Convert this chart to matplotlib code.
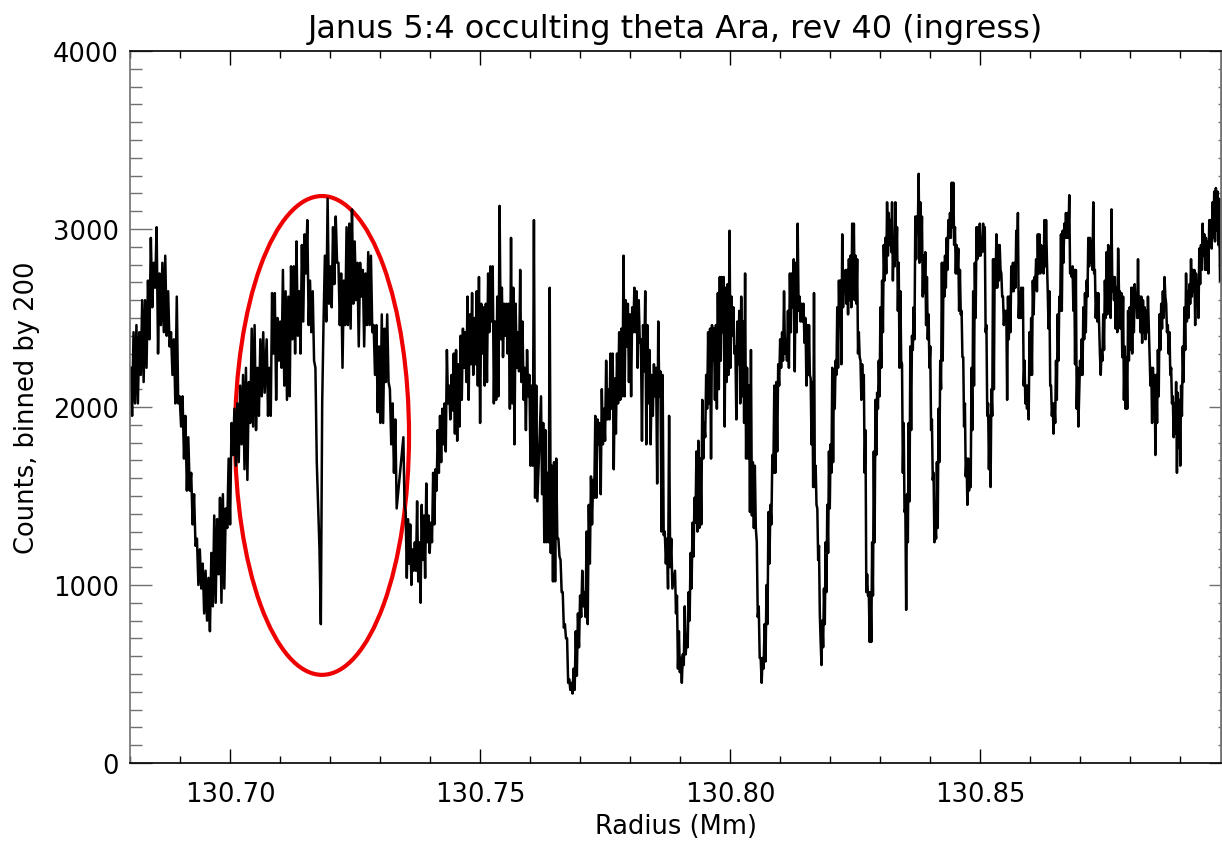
import numpy as np
import matplotlib
matplotlib.use("Agg")
import matplotlib.pyplot as plt
from matplotlib.patches import Ellipse
from matplotlib.ticker import MultipleLocator

# counts (binned by 200) from left to right
seg1 = [2220, 1950, 2420, 2020, 2460, 2020, 2420, 2180, 2600, 2140, 2600, 2220,
        2710, 2380, 2950, 2560, 2810, 2670, 3010, 2300, 2750, 2460, 2810, 2420,
        2850, 2400, 2650, 2340, 2420, 2180, 2380, 2020, 2620, 2020, 2060, 1890,
        2060, 1710, 1950, 1530, 1830, 1530, 1630, 1340, 1510, 1220, 1260, 1000,
        1200, 980, 1120, 840, 1080, 800, 1040, 740, 1180, 880, 1390, 900,
        1370, 1060, 1490, 900, 1510, 980, 1430, 1320, 1710, 1340, 1910, 1730,
        1990, 1670, 2020, 1690, 2120, 1790, 2180, 1650, 2220, 1590, 2140, 1910,
        2440, 1890, 2460, 1870, 2220, 1950, 2380, 2060, 2420, 2080]
seg2 = [2380, 1950, 2220, 1950, 2640, 2300, 2640, 2040, 2500, 2260, 2480, 2220,
        2770, 2120, 2650, 2040, 2620, 2060, 2790, 2380, 2790, 2300, 2930, 2400,
        2650, 2300, 2910, 2480, 2970, 2750, 3050, 2460, 2710, 2420, 2650, 2260,
        2220, 1690, 1450, 1200, 780, 2020, 2480, 2850, 2480, 3170, 2580,
        2790, 2560, 3010, 2690, 3070, 2810, 2810, 2460, 2750, 2220, 2710, 2460,
        3010, 2460, 3030, 2440, 3110, 2580, 2930, 2600, 2810, 2340, 2810, 2620,
        2770, 2340, 2750, 2460, 2870, 2460, 2850, 2420, 2460, 2180, 2460, 1970,
        2340, 1910, 2520, 1910, 2440, 2140, 2520, 2140, 2100, 1790, 2020, 1630,
        1930, 1430]
seg3 = [1830, 1450, 1410, 1040, 1370, 1120, 1340, 1000, 1200, 1080, 1240, 1080,
        1470, 1020, 1240, 900, 1450, 1140, 1390, 1040, 1570, 1240, 1390, 1180,
        1350, 1240, 1630, 1340, 1650, 1530, 1870, 1630, 1950, 1690, 1990, 1790,
        2020, 1750, 2320, 2020, 2120, 1930, 2180, 1980, 2300, 1850, 2320, 1810,
        2240, 1890, 2400, 2040, 2440, 2220, 2420, 2140, 2620, 2040, 2520, 2240,
        2640, 2180, 2500, 2240, 2650, 2120, 2730, 1910, 2580, 2300, 2560, 2120,
        2580, 2140, 2750, 2420, 2790, 2480, 2790, 2020, 2480, 2040, 2620, 2060,
        3130, 2380, 2670, 2280, 2580, 2400, 2580, 2300, 2580, 1990, 2950, 2020,
        2670, 1790, 2580, 2220, 2420, 2200, 2770, 2140, 2480, 2040, 2220, 1870,
        2320, 2060, 2180, 1670, 2120, 1670, 3050, 1490, 2120, 1470]
seg4 = [2060, 1510, 1910, 1240, 1870, 1240, 1630, 1240, 2670, 1180, 1670, 1020,
        1690, 1020, 1710, 1260, 1260, 1160, 1140, 960, 960, 760, 780, 700,
        700, 450, 470, 410, 450, 390, 530, 410, 740, 490, 840, 650,
        940, 820, 1080, 880, 960, 820, 1300, 780, 1450, 1120, 1610, 1340,
        1590, 1490, 1950, 1490, 1930, 1790, 1910, 1510, 2100, 1790, 1990, 1810,
        2260, 1930, 2100, 1930, 2300, 1990, 2300, 1650, 2160, 1850, 2300, 2020,
        2420, 2040, 2440, 2060, 2850, 2060, 2600, 2340, 2580, 2140, 2520, 2060,
        2560, 2420, 2670, 2420, 2650, 2220, 2600, 2360, 2380, 1810, 2460, 2200,
        2650, 1790, 2460, 2020, 2320, 1790, 2180, 1950, 2240, 2060, 2220, 1570,
        2480, 2060, 2200, 1300, 2180, 1280, 1300, 1120, 1260, 980, 1950, 1100,
        1260, 980]
seg5 = [1080, 840, 940, 530, 740, 510, 590, 450, 610, 550, 880, 610,
        720, 650, 960, 800, 1180, 980, 1350, 1160, 1490, 1350, 1750, 1300,
        1810, 1320, 1710, 1340, 2040, 1710, 1910, 1830, 2180, 1990, 2420, 2020,
        2440, 1710, 2460, 2260, 2440, 2040, 2460, 1990, 2640, 2100, 2730, 2260,
        2730, 2420, 2730, 1890, 2670, 2140, 2690, 2180, 2990, 2220, 2620, 2400,
        2560, 2300, 2340, 1930, 2480, 2240, 2540, 2020, 2620, 2060, 2480, 1910,
        2750, 1710, 2220, 1710, 2120, 1410, 2320, 1390, 1690, 1320, 1670, 1320,
        1240, 820, 880, 590, 590, 450, 590, 530, 780, 570, 1000, 780,
        1410, 1120, 1450, 1340, 1730, 1630, 2120, 1630, 2140, 1750, 2240, 2120,
        2380, 2220, 2420, 2260, 2650, 2300, 2380, 2260, 2540, 2220, 2750, 2420,
        2750, 2560, 2830, 2200, 2810, 2420, 3030, 2540, 2620, 2480, 2580, 2480,
        2580, 2360, 2500, 2120, 2460, 2180]
seg6 = [2460, 2180, 2160, 1790, 2140, 1550, 2640, 1550, 1670, 1450, 1430, 1140,
        1220, 840, 680, 550, 800, 650, 980, 780, 1240, 960, 1450, 1180,
        1750, 1430, 1790, 1630, 2220, 1690, 2200, 1990, 2260, 2180, 2560, 2220,
        2710, 2460, 2710, 2240, 2970, 2560, 2750, 2650, 2770, 2580, 2770, 2520,
        2830, 2600, 2850, 2560, 3030, 2690, 3030, 2600, 2850, 2580, 2830, 2300,
        2420, 2280, 2260, 2040, 2240, 2080, 2180, 1630, 1870, 960, 1060, 940,
        960, 680, 960, 680, 1240, 940, 1750, 1240, 2040, 1730, 2080, 1990,
        2260, 2060, 2560, 2220, 2710, 2420, 2910, 2710, 2950, 2750, 3150, 2850,
        3090, 2910, 3050, 2870, 3150, 2710, 2950, 2790, 3150, 2830, 3010, 2540,
        2810, 2220, 2650, 2260, 2240, 1630, 1910, 1410, 1430, 860, 1510, 1240,
        1910, 1470, 2340, 1870, 2400, 2320, 2560, 2380, 3070, 2830, 3070, 2990,
        3310, 2810, 3150, 2830, 3070, 2620, 2850, 2640, 2870, 2460, 2730, 2380,
        2520, 2220, 2340, 1870, 1930, 1590, 1630, 1240, 1350, 1260, 1690, 1320,
        1990, 1690, 2260, 2100, 2810, 2260, 2810, 2620]
seg7 = [2850, 2670, 2950, 2770, 3050, 2950, 3090, 2950, 3260, 3010, 3260, 2910,
        3010, 2750, 2910, 2750, 2890, 2540, 2770, 2520, 2540, 2280, 2280, 1890,
        2020, 1610, 1710, 1450, 1710, 1530, 1690, 1550, 2220, 1870, 2650, 2120,
        2810, 2500, 3010, 2830, 3010, 2850, 3030, 2850, 2950, 2870, 3030, 2890,
        3010, 2420, 2460, 1950, 2020, 1650, 1950, 1550, 2100, 1950, 2830, 2100,
        2830, 2670, 2970, 2670, 2910, 2710, 2910, 2770, 2750, 2620, 2620, 2460,
        2540, 2480, 2540, 2040, 2620, 2380, 2620, 2420, 2790, 2650, 2810, 2650,
        2810, 2670, 2990, 2810, 3090, 2500, 2640, 2500, 2670, 2500, 2670, 2120,
        2260, 2020, 2120, 1990, 2120, 1930, 2420, 2180, 2500, 2180, 2710, 2520,
        2730, 2690, 2830, 2650, 2970, 2750, 2970, 2750, 2910, 2810, 2890, 2750,
        3050, 2790, 3050, 2830, 2650, 2440, 2650, 2120, 2120, 1950, 2020, 1850,
        2020, 1910, 2260, 2040, 2520, 2260, 2620, 2540, 2970, 2540, 2990, 2810,
        3030, 2950, 3090, 2950, 3090, 2950, 3190, 2750, 2770, 2730, 2790, 2540,
        2770, 2240, 2770, 1990, 2220, 1890]
seg8 = [2260, 2180, 2380, 2180, 2560, 2380, 2640, 2420, 2710, 2620, 2950, 2790,
        2950, 2810, 2930, 2770, 3150, 2750, 2770, 2500, 2640, 2480, 2640, 2460,
        2300, 2180, 2320, 2260, 2520, 2320, 2710, 2500, 2870, 2520, 2910, 2710,
        2890, 2500, 3110, 2650, 2730, 2600, 2730, 2440, 2670, 2420, 2890, 2650,
        2650, 2440, 2640, 2280, 2620, 2040, 2340, 1990, 2280, 1990, 2540, 2260,
        2560, 2320, 2670, 2300, 2670, 2420, 2690, 2560, 2620, 2500, 2830, 2500,
        2620, 2420, 2620, 2360, 2600, 2420, 2560, 2380, 2540, 2420, 2620, 2460,
        2300, 2120, 2220, 1910, 2220, 1970, 2180, 1730, 2180, 1910, 2320, 2060,
        2520, 2320, 2580, 2440, 2650, 2500, 2730, 2620, 2580, 2420, 2460, 2300,
        2420, 2180, 2220, 2020, 2060, 1830, 2020, 1850, 2140, 1630, 2080, 1770,
        2040, 1670, 2120, 1950, 2340, 2140, 2560, 2320, 2750, 2480, 2650, 2500,
        2690, 2580, 2830, 2620, 2770, 2650, 2770, 2460, 2750, 2620, 2650, 2500,
        2890, 2690, 2910, 2770, 3030, 2850, 2970, 2770, 2950, 2770, 2930, 2750,
        3050, 2930, 3050, 2890, 3150, 2950, 3210, 2930, 3230, 2990, 3210, 2910,
        3170, 2710]

# radius (Mm) where each piece starts and ends
seg_start = [130.68013, 130.70733, 130.73467, 130.76220, 130.78900, 130.81580, 130.84300, 130.87000]
seg_end = [130.70693, 130.73333, 130.76147, 130.78847, 130.81567, 130.84287, 130.86967, 130.89800]

# circled feature
circle_center = (130.7184, 1840)
circle_width = 0.0348
circle_height = 2690

segs = [seg1, seg2, seg3, seg4, seg5, seg6, seg7, seg8]
radius = np.concatenate([np.linspace(a, b, len(s)) for a, b, s in zip(seg_start, seg_end, segs)])
counts = np.concatenate([np.array(s, dtype=float) for s in segs])

plt.rcParams['font.family'] = 'DejaVu Sans'

fig = plt.figure(figsize=(12.22, 8.45), dpi=100)
ax = fig.add_axes([0.1064, 0.0959, 0.8928, 0.8426])

ax.plot(radius, counts, color='black', lw=1.8)
ax.add_patch(Ellipse(circle_center, circle_width, circle_height,
                     fill=False, edgecolor='#ee0000', lw=3.0))

ax.set_xlim(130.68, 130.8982)
ax.set_ylim(0, 4000)

ax.xaxis.set_major_locator(MultipleLocator(0.05))
ax.xaxis.set_minor_locator(MultipleLocator(0.01))
ax.yaxis.set_major_locator(MultipleLocator(1000))
ax.yaxis.set_minor_locator(MultipleLocator(100))
ax.xaxis.set_major_formatter(matplotlib.ticker.FormatStrFormatter('%.2f'))

ax.tick_params(axis='x', which='both', direction='in', top=True, labelsize=18.5, pad=13)
ax.tick_params(axis='x', which='major', length=10, width=1)
ax.tick_params(axis='x', which='minor', length=5, width=1)
ax.tick_params(axis='y', which='both', direction='in', right=False, labelsize=18.5,
               pad=8, color='#707070')
ax.tick_params(axis='y', which='major', length=16, width=1)
ax.tick_params(axis='y', which='minor', length=8.5, width=1)

# right side ticks are shorter in the original
sec = ax.secondary_yaxis('right')
sec.yaxis.set_major_locator(MultipleLocator(1000))
sec.yaxis.set_minor_locator(MultipleLocator(100))
sec.tick_params(which='both', direction='in', labelright=False, color='#707070')
sec.tick_params(which='major', length=9, width=1)
sec.tick_params(which='minor', length=2.5, width=1)
sec.spines['right'].set_color('#707070')

for sp in ax.spines.values():
    sp.set_linewidth(1.2)
ax.spines['left'].set_color('#707070')
ax.spines['right'].set_color('#707070')

ax.set_title("Janus 5:4 occulting theta Ara, rev 40 (ingress)", fontsize=23, pad=10)
ax.set_xlabel("Radius (Mm)", fontsize=18.5, labelpad=4)
ax.set_ylabel("Counts, binned by 200", fontsize=18.5, labelpad=9)

fig.savefig("out.png", dpi=100)
